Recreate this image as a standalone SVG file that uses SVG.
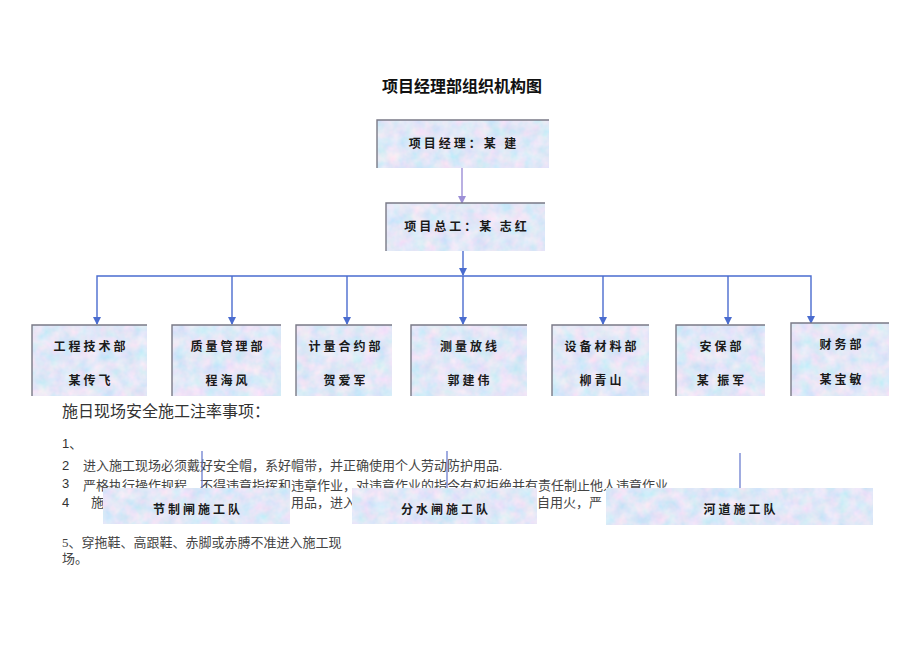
<svg xmlns="http://www.w3.org/2000/svg" width="920" height="651" viewBox="0 0 920 651">
<defs>
<filter id="tex" x="0" y="0" width="100%" height="100%">
<feTurbulence type="fractalNoise" baseFrequency="0.08" numOctaves="3" seed="5" result="n"/>
<feColorMatrix in="n" type="matrix" values="0.55 0 0 0 0.48  0 0.2 0 0 0.70  0 0 0.1 0 0.88  0 0 0 0 1" result="c"/>
<feComposite in="c" in2="SourceGraphic" operator="in"/>
</filter>
<marker id="ab" markerWidth="8" markerHeight="8" refX="7" refY="4" orient="auto-start-reverse" markerUnits="userSpaceOnUse" viewBox="0 0 8 8">
<path d="M0,0 L8,4 L0,8 Z" fill="#4a6ccf"/>
</marker>
<marker id="al" markerWidth="8" markerHeight="8" refX="7" refY="4" orient="auto" markerUnits="userSpaceOnUse" viewBox="0 0 8 8">
<path d="M0,0 L8,4 L0,8 Z" fill="#9c8fd6"/>
</marker>
</defs>
<style>
.box{fill:#c4cdee;filter:url(#tex)}
.edge{fill:none;stroke:#7a7a86;stroke-width:1.4}
.nt{font-family:"Noto Sans CJK SC","Noto Sans CJK JP",sans-serif;font-weight:bold;font-size:12px;fill:#1a1a1a;text-anchor:middle;letter-spacing:3px}
.lt{font-family:"Liberation Serif","Noto Sans CJK SC",serif;font-size:13px;fill:#444}
.hd{font-family:"Liberation Serif","Noto Sans CJK SC",serif;font-size:16px;fill:#333}
.num{font-family:"Liberation Sans","Noto Sans CJK SC",sans-serif;font-size:13px;fill:#333}
.cn{stroke:#4a6ccf;stroke-width:1.4;fill:none}
</style>
<rect width="920" height="651" fill="#ffffff"/>
<text x="462" y="92" font-family="Noto Sans CJK SC, sans-serif" font-weight="bold" font-size="16" fill="#111" text-anchor="middle">项目经理部组织机构图</text>

<g id="notes">
<text class="hd" x="62" y="417">施日现场安全施工注率事项：</text>
<text class="num" x="62" y="448">1、</text>
<text class="num" x="62" y="470">2</text>
<text class="lt" x="83" y="470">进入施工现场必须戴好安全帽，系好帽带，并正确使用个人劳动防护用品.</text>
<text class="num" x="62" y="488">3</text>
<text class="lt" x="83" y="490">严格执行操作规程，不得违章指挥和违章作业，对违章作业的指令有权拒绝并有责任制止他人违章作业.</text>
<text class="num" x="62" y="507">4</text>
<text class="lt" x="91" y="507">施</text>
<text class="lt" x="291" y="507">用品，进入</text>
<text class="lt" x="537" y="507">自用火，严</text>
<text class="lt" x="62" y="547">5、穿拖鞋、高跟鞋、赤脚或赤膊不准进入施工现</text>
<text class="lt" x="62" y="563">场。</text>
</g>

<g id="connectors">
<line x1="462" y1="168" x2="462" y2="203" stroke="#9c8fd6" stroke-width="1.4" marker-end="url(#al)"/>
<line class="cn" x1="463" y1="251" x2="463" y2="275" marker-end="url(#ab)"/>
<polyline class="cn" points="97,324 97,276 811,276 811,323" marker-start="url(#ab)" marker-end="url(#ab)"/>
<line class="cn" x1="232" y1="276" x2="232" y2="324" marker-end="url(#ab)"/>
<line class="cn" x1="347" y1="276" x2="347" y2="324" marker-end="url(#ab)"/>
<line class="cn" x1="463" y1="276" x2="463" y2="324" marker-end="url(#ab)"/>
<line class="cn" x1="603" y1="276" x2="603" y2="324" marker-end="url(#ab)"/>
<line class="cn" x1="728" y1="276" x2="728" y2="324" marker-end="url(#ab)"/>
<line x1="202" y1="451" x2="202" y2="488" stroke="#6c7fcf" stroke-width="1.3"/>
<line x1="447" y1="451" x2="447" y2="488" stroke="#6c7fcf" stroke-width="1.3"/>
<line x1="740" y1="453" x2="740" y2="488" stroke="#6c7fcf" stroke-width="1.3"/>
</g>

<g id="pm">
<rect class="box" x="377" y="120" width="172" height="48"/>
<path class="edge" d="M377,168 V120 H549"/>
<text class="nt" x="464" y="148">项目经理：某 建</text>
</g>
<g id="chief">
<rect class="box" x="386" y="203" width="159" height="48"/>
<path class="edge" d="M386,251 V203 H545"/>
<text class="nt" x="467" y="231">项目总工：某  志红</text>
</g>

<g id="d1"><rect class="box" x="32" y="325" width="115" height="71"/><path class="edge" d="M32,396 V325 H147"/>
<text class="nt" x="91" y="351">工程技术部</text><text class="nt" x="91" y="385">某传飞</text></g>
<g id="d2"><rect class="box" x="172" y="325" width="109" height="71"/><path class="edge" d="M172,396 V325 H281"/>
<text class="nt" x="228" y="351">质量管理部</text><text class="nt" x="228" y="385">程海风</text></g>
<g id="d3"><rect class="box" x="296" y="325" width="96" height="71"/><path class="edge" d="M296,396 V325 H392"/>
<text class="nt" x="346" y="351">计量合约部</text><text class="nt" x="346" y="385">贺爱军</text></g>
<g id="d4"><rect class="box" x="411" y="325" width="116" height="71"/><path class="edge" d="M411,396 V325 H527"/>
<text class="nt" x="470" y="351">测量放线</text><text class="nt" x="470" y="385">郭建伟</text></g>
<g id="d5"><rect class="box" x="552" y="325" width="97" height="71"/><path class="edge" d="M552,396 V325 H649"/>
<text class="nt" x="602" y="351">设备材料部</text><text class="nt" x="602" y="385">柳青山</text></g>
<g id="d6"><rect class="box" x="676" y="325" width="89" height="71"/><path class="edge" d="M676,396 V325 H765"/>
<text class="nt" x="722" y="351">安保部</text><text class="nt" x="722" y="385">某  振军</text></g>
<g id="d7"><rect class="box" x="791" y="323" width="98" height="73"/><path class="edge" d="M791,396 V323 H889"/>
<text class="nt" x="842" y="349">财务部</text><text class="nt" x="842" y="384">某宝敏</text></g>

<g id="t1"><rect class="box" x="103" y="488" width="187" height="36"/>
<text class="nt" x="198" y="514">节制闸施工队</text></g>
<g id="t2"><rect class="box" x="352" y="488" width="185" height="36"/>
<text class="nt" x="446" y="514">分水闸施工队</text></g>
<g id="t3"><rect class="box" x="606" y="488" width="267" height="37"/>
<text class="nt" x="741" y="514">河道施工队</text></g>
</svg>
